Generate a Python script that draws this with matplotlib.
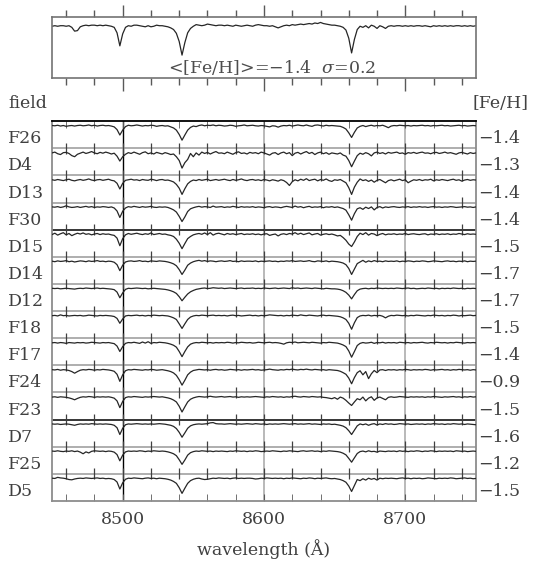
import numpy as np
import matplotlib
matplotlib.use("Agg")
import matplotlib.pyplot as plt

plt.rcParams['font.family'] = ['DejaVu Serif']
plt.rcParams['mathtext.fontset'] = 'dejavuserif'

# wavelength grid of the spectra (2 A sampling)
wave = np.arange(8450, 8751, 2)

fields = ['F26', 'D4', 'D13', 'F30', 'D15', 'D14', 'D12',
          'F18', 'F17', 'F24', 'F23', 'D7', 'F25', 'D5']
feh = ['−1.4', '−1.3', '−1.4', '−1.4', '−1.5', '−1.7', '−1.7',
       '−1.5', '−1.4', '−0.9', '−1.5', '−1.6', '−1.2', '−1.5']

# normalised flux x100
mean_flux = [98, 99, 98, 99, 99, 98, 99, 96, 89, 90,
             97, 99, 100, 99, 100, 100, 99, 100, 99, 100,
             99, 98, 96, 86, 62, 84, 96, 99, 98, 100,
             100, 99, 98, 97, 99, 97, 98, 100, 99, 99,
             98, 97, 95, 92, 85, 70, 45, 68, 86, 94,
             98, 101, 100, 99, 100, 102, 101, 100, 99, 100,
             100, 99, 100, 99, 98, 100, 99, 98, 99, 100,
             99, 98, 100, 101, 100, 99, 99, 98, 99, 97,
             95, 97, 99, 100, 99, 101, 100, 101, 102, 101,
             102, 103, 102, 104, 103, 105, 103, 102, 101, 100,
             100, 99, 98, 96, 91, 76, 49, 74, 92, 98,
             96, 99, 95, 100, 98, 94, 99, 97, 94, 98,
             99, 98, 99, 99, 98, 99, 98, 99, 98, 99,
             99, 98, 99, 98, 97, 99, 98, 99, 98, 99,
             98, 99, 98, 99, 99, 98, 99, 98, 99, 98,
             99]

f26 = [99, 98, 100, 97, 99, 96, 98, 99, 97, 99,
       100, 98, 99, 101, 98, 100, 97, 99, 100, 98,
       99, 97, 94, 84, 64, 82, 95, 100, 98, 99,
       101, 99, 97, 99, 98, 100, 99, 96, 98, 99,
       97, 98, 94, 90, 82, 66, 45, 64, 82, 92,
       97, 95, 99, 101, 98, 100, 99, 101, 98, 100,
       99, 97, 98, 100, 99, 96, 98, 99, 101, 98,
       99, 100, 98, 97, 99, 98, 96, 94, 98, 97,
       93, 97, 99, 98, 100, 97, 99, 101, 99, 98,
       101, 98, 96, 100, 101, 99, 97, 100, 98, 99,
       98, 97, 96, 92, 86, 72, 55, 74, 90, 96,
       99, 95, 98, 100, 97, 99, 98, 100, 96, 91,
       97, 99, 98, 100, 99, 98, 99, 97, 99, 98,
       99, 100, 98, 99, 97, 99, 98, 99, 100, 98,
       99, 97, 98, 99, 100, 98, 99, 97, 98, 99,
       98]

d4 = [98, 101, 95, 92, 99, 100, 96, 88, 84, 93,
      97, 101, 96, 99, 103, 98, 95, 100, 97, 101,
      98, 94, 97, 86, 68, 84, 93, 99, 96, 101,
      97, 93, 99, 102, 95, 98, 94, 100, 97, 94,
      99, 96, 92, 94, 84, 70, 42, 62, 74, 96,
      84, 98, 90, 101, 96, 100, 94, 99, 103, 97,
      98, 95, 101, 97, 93, 99, 102, 96, 98, 94,
      100, 97, 99, 95, 101, 98, 94, 90, 97, 99,
      92, 98, 101, 95, 99, 88, 97, 100, 94, 99,
      103, 96, 100, 92, 98, 101, 95, 99, 93, 98,
      96, 94, 98, 90, 86, 70, 47, 68, 88, 97,
      93, 99, 95, 87, 98, 101, 96, 99, 94, 100,
      97, 99, 101, 96, 98, 93, 99, 97, 100, 96,
      99, 101, 97, 98, 95, 99, 100, 96, 98, 101,
      97, 99, 96, 93, 98, 100, 97, 94, 99, 96,
      98]

d13 = [99, 97, 100, 98, 96, 99, 101, 97, 95, 98,
       100, 97, 99, 102, 98, 96, 99, 100, 97, 99,
       101, 97, 95, 86, 65, 86, 97, 99, 101, 98,
       99, 96, 100, 98, 97, 101, 99, 96, 99, 100,
       97, 98, 95, 91, 82, 68, 45, 66, 84, 93,
       98, 96, 100, 97, 99, 101, 96, 98, 100, 97,
       99, 101, 98, 96, 100, 97, 99, 102, 98, 96,
       99, 100, 97, 99, 96, 100, 98, 95, 99, 97,
       94, 99, 96, 89, 78, 92, 99, 95, 101, 97,
       103, 96, 99, 101, 95, 100, 97, 102, 96, 93,
       99, 97, 100, 94, 88, 70, 45, 72, 90, 102,
       96, 99, 93, 98, 90, 97, 100, 94, 88, 96,
       99, 95, 98, 101, 96, 99, 88, 94, 99, 97,
       100, 96, 99, 98, 101, 95, 99, 97, 100, 98,
       96, 99, 101, 97, 99, 94, 98, 100, 97, 99,
       98]

f30 = [99, 98, 100, 97, 99, 103, 99, 97, 98, 100,
       97, 99, 101, 98, 100, 97, 99, 98, 100, 99,
       97, 99, 95, 84, 60, 83, 95, 100, 98, 101,
       99, 97, 100, 98, 99, 101, 98, 97, 99, 98,
       99, 97, 93, 88, 80, 64, 45, 62, 82, 92,
       96, 99, 101, 98, 100, 99, 97, 102, 98, 99,
       100, 97, 99, 98, 101, 99, 97, 100, 98, 99,
       98, 100, 97, 99, 98, 96, 99, 100, 97, 99,
       98, 96, 99, 101, 99, 97, 102, 98, 100, 96,
       99, 101, 97, 99, 98, 100, 96, 99, 98, 100,
       97, 99, 96, 93, 87, 70, 50, 74, 92, 96,
       90, 98, 93, 99, 88, 97, 100, 95, 99, 97,
       99, 100, 98, 97, 99, 98, 100, 97, 99, 98,
       100, 98, 99, 97, 99, 100, 98, 99, 97, 99,
       98, 100, 99, 97, 98, 99, 100, 98, 99, 97,
       99]

d15 = [97, 102, 95, 100, 104, 96, 101, 93, 98, 102,
       99, 103, 98, 100, 96, 99, 101, 97, 100, 98,
       99, 96, 94, 84, 56, 82, 96, 101, 98, 100,
       102, 99, 97, 100, 98, 103, 97, 99, 101, 98,
       99, 96, 94, 90, 80, 65, 45, 64, 82, 90,
       96, 99, 101, 98, 103, 97, 104, 95, 100, 102,
       99, 96, 101, 98, 100, 97, 99, 101, 97, 99,
       98, 100, 97, 99, 96, 99, 100, 94, 97, 99,
       92, 98, 100, 97, 101, 99, 104, 98, 102, 97,
       100, 103, 96, 99, 101, 95, 98, 100, 97, 99,
       96, 92, 94, 86, 76, 62, 53, 70, 90, 102,
       97, 104, 95, 101, 99, 93, 98, 101, 96, 99,
       98, 100, 97, 99, 98, 101, 97, 99, 100, 98,
       97, 99, 100, 96, 99, 98, 100, 97, 99, 98,
       100, 97, 99, 98, 101, 99, 97, 100, 98, 99,
       98]

d14 = [99, 97, 100, 98, 99, 101, 97, 99, 96, 98,
       100, 99, 97, 100, 98, 99, 101, 98, 99, 97,
       99, 98, 95, 86, 64, 84, 96, 99, 100, 98,
       99, 101, 98, 99, 97, 100, 99, 98, 100, 99,
       98, 96, 93, 89, 82, 68, 50, 66, 84, 92,
       97, 100, 102, 99, 101, 98, 100, 99, 97, 99,
       100, 98, 99, 101, 98, 99, 97, 100, 98, 99,
       99, 98, 100, 97, 99, 98, 99, 100, 98, 99,
       97, 99, 98, 100, 99, 101, 98, 99, 100, 98,
       99, 101, 98, 97, 100, 99, 98, 100, 97, 99,
       98, 97, 95, 92, 86, 72, 50, 70, 90, 96,
       102, 95, 100, 97, 101, 98, 99, 97, 100, 98,
       99, 98, 100, 97, 99, 98, 100, 99, 97, 99,
       98, 100, 99, 97, 98, 100, 99, 98, 97, 99,
       100, 98, 99, 97, 99, 98, 100, 97, 99, 98,
       99]

d12 = [99, 98, 99, 97, 98, 99, 98, 97, 96, 98,
       99, 98, 100, 99, 98, 99, 100, 98, 99, 98,
       97, 96, 94, 85, 64, 82, 95, 99, 98, 99,
       100, 99, 98, 99, 97, 98, 99, 98, 97, 96,
       95, 93, 90, 86, 80, 68, 53, 66, 78, 86,
       91, 95, 97, 99, 100, 98, 99, 101, 100, 99,
       100, 98, 99, 100, 99, 98, 99, 100, 98, 99,
       99, 100, 98, 99, 98, 100, 99, 98, 99, 100,
       98, 99, 100, 99, 98, 101, 99, 100, 98, 99,
       100, 99, 98, 100, 99, 98, 97, 99, 98, 97,
       97, 96, 94, 90, 84, 74, 60, 76, 90, 96,
       98, 99, 97, 99, 98, 100, 99, 98, 99, 98,
       99, 98, 100, 99, 98, 99, 100, 98, 99, 97,
       98, 99, 98, 100, 99, 98, 99, 97, 99, 98,
       99, 98, 100, 99, 98, 99, 97, 99, 98, 99,
       98]

f18 = [98, 99, 97, 101, 98, 99, 97, 98, 99, 98,
       99, 97, 98, 100, 99, 98, 97, 99, 98, 99,
       98, 97, 95, 88, 70, 86, 97, 99, 98, 99,
       100, 98, 99, 97, 99, 98, 100, 99, 98, 99,
       98, 97, 94, 90, 84, 68, 51, 68, 84, 93,
       97, 99, 98, 100, 99, 98, 99, 100, 98, 99,
       98, 99, 97, 99, 100, 98, 99, 97, 98, 99,
       100, 98, 99, 97, 99, 98, 99, 101, 100, 99,
       98, 99, 97, 99, 98, 100, 99, 98, 101, 99,
       98, 100, 99, 98, 97, 99, 100, 98, 99, 98,
       97, 96, 94, 90, 84, 70, 48, 72, 91, 97,
       99, 98, 100, 97, 99, 98, 99, 96, 90, 96,
       99, 98, 100, 99, 98, 99, 97, 99, 98, 100,
       99, 98, 97, 99, 98, 100, 99, 98, 99, 97,
       99, 98, 100, 99, 97, 99, 98, 99, 100, 98,
       99]

f17 = [98, 99, 97, 99, 98, 96, 99, 98, 97, 99,
       98, 99, 97, 98, 100, 99, 98, 97, 99, 98,
       99, 97, 95, 86, 66, 84, 96, 99, 98, 100,
       98, 96, 101, 97, 102, 96, 99, 98, 100, 99,
       98, 96, 93, 89, 82, 66, 47, 66, 83, 93,
       97, 99, 98, 100, 99, 98, 99, 97, 99, 98,
       99, 98, 100, 99, 97, 99, 98, 100, 99, 98,
       99, 97, 98, 100, 99, 98, 99, 100, 98, 99,
       98, 96, 93, 98, 100, 99, 101, 98, 99, 100,
       99, 98, 100, 99, 98, 97, 99, 98, 100, 99,
       98, 97, 94, 90, 84, 68, 45, 66, 88, 96,
       99, 97, 98, 100, 96, 99, 98, 100, 97, 99,
       98, 99, 97, 100, 99, 98, 99, 97, 99, 98,
       99, 100, 98, 97, 99, 98, 100, 99, 98, 99,
       97, 99, 98, 100, 99, 98, 97, 99, 98, 99,
       98]

f24 = [99, 98, 100, 97, 99, 98, 96, 92, 86, 92,
       97, 99, 98, 100, 99, 97, 99, 98, 100, 99,
       98, 96, 93, 82, 56, 80, 95, 99, 98, 100,
       99, 98, 97, 99, 98, 100, 99, 97, 98, 99,
       97, 95, 92, 87, 78, 62, 42, 60, 80, 90,
       96, 98, 100, 99, 98, 99, 97, 99, 100, 98,
       99, 97, 98, 100, 99, 98, 99, 97, 99, 98,
       99, 100, 98, 99, 97, 98, 99, 101, 99, 98,
       97, 99, 98, 100, 99, 101, 99, 98, 100, 99,
       101, 99, 98, 100, 99, 98, 99, 97, 99, 98,
       97, 96, 93, 88, 82, 68, 47, 70, 88, 95,
       80, 92, 66, 84, 96, 88, 98, 99, 96, 99,
       98, 99, 97, 99, 98, 100, 99, 97, 99, 98,
       99, 98, 100, 99, 97, 99, 98, 99, 100, 98,
       99, 97, 99, 98, 100, 99, 98, 99, 97, 99,
       98]

f23 = [98, 99, 97, 99, 98, 97, 95, 92, 88, 93,
       97, 99, 98, 100, 99, 97, 99, 98, 99, 98,
       99, 97, 94, 84, 59, 82, 96, 99, 98, 100,
       99, 98, 97, 99, 98, 99, 100, 99, 98, 99,
       97, 95, 92, 87, 80, 64, 43, 62, 80, 90,
       95, 98, 100, 99, 98, 99, 101, 99, 98, 99,
       100, 98, 99, 100, 98, 99, 97, 99, 98, 99,
       98, 99, 100, 99, 98, 97, 99, 98, 100, 99,
       98, 99, 97, 99, 98, 100, 101, 99, 98, 100,
       99, 98, 100, 99, 98, 99, 97, 96, 94, 92,
       96, 90, 98, 94, 86, 76, 67, 80, 92, 88,
       98, 84, 94, 99, 86, 95, 98, 93, 88, 97,
       99, 97, 98, 100, 99, 98, 97, 99, 98, 99,
       98, 99, 97, 99, 98, 100, 99, 98, 97, 99,
       98, 99, 100, 98, 99, 97, 99, 98, 100, 98,
       99]

d7 = [99, 98, 99, 97, 98, 99, 98, 96, 94, 97,
      99, 98, 99, 98, 100, 99, 98, 99, 98, 99,
      98, 97, 94, 85, 60, 83, 96, 99, 98, 99,
      100, 99, 98, 99, 98, 99, 98, 99, 100, 99,
      98, 96, 94, 90, 82, 68, 50, 66, 83, 92,
      96, 98, 99, 98, 99, 100, 103, 104, 100, 99,
      99, 98, 99, 100, 99, 98, 99, 98, 99, 100,
      99, 98, 100, 99, 98, 99, 97, 99, 98, 99,
      98, 99, 100, 99, 98, 99, 100, 98, 99, 98,
      99, 100, 98, 99, 98, 97, 99, 98, 99, 97,
      98, 96, 94, 91, 85, 74, 60, 76, 92, 99,
      96, 99, 94, 98, 100, 95, 99, 97, 100, 98,
      99, 97, 98, 100, 99, 98, 99, 97, 98, 99,
      98, 99, 97, 99, 98, 100, 99, 98, 99, 97,
      99, 98, 100, 99, 98, 99, 97, 99, 98, 97,
      96]

f25 = [99, 98, 100, 98, 97, 99, 98, 100, 97, 99,
       95, 89, 96, 92, 98, 100, 99, 98, 99, 97,
       99, 98, 95, 86, 63, 84, 96, 99, 98, 99,
       98, 100, 99, 97, 99, 98, 100, 99, 98, 99,
       98, 96, 93, 89, 82, 67, 50, 66, 84, 93,
       97, 99, 98, 100, 99, 98, 99, 97, 99, 98,
       99, 98, 97, 99, 98, 100, 99, 98, 99, 97,
       99, 98, 100, 99, 97, 98, 99, 98, 100, 99,
       98, 97, 99, 98, 100, 99, 98, 97, 99, 100,
       98, 99, 100, 98, 99, 97, 99, 98, 100, 99,
       98, 97, 95, 91, 85, 72, 58, 74, 90, 97,
       99, 96, 100, 97, 98, 95, 99, 98, 97, 99,
       98, 99, 97, 100, 98, 99, 97, 99, 98, 100,
       99, 97, 99, 98, 100, 99, 97, 99, 98, 99,
       98, 99, 97, 100, 99, 98, 99, 97, 98, 99,
       98]

d5 = [99, 98, 102, 100, 99, 97, 94, 93, 96, 98,
      99, 98, 100, 99, 98, 99, 100, 98, 99, 97,
      98, 97, 94, 85, 59, 82, 95, 99, 98, 100,
      99, 98, 97, 99, 100, 98, 99, 97, 99, 98,
      97, 95, 92, 87, 80, 64, 43, 62, 80, 90,
      95, 98, 99, 96, 94, 95, 97, 99, 98, 100,
      99, 98, 99, 97, 99, 100, 98, 99, 98, 99,
      99, 98, 96, 97, 99, 98, 100, 99, 98, 99,
      98, 99, 97, 99, 98, 100, 99, 98, 97, 99,
      98, 100, 99, 97, 99, 98, 99, 100, 98, 97,
      98, 96, 94, 90, 84, 70, 50, 72, 94, 90,
      97, 92, 99, 95, 98, 92, 99, 97, 99, 98,
      99, 98, 97, 99, 100, 98, 99, 97, 99, 98,
      99, 97, 98, 100, 99, 98, 97, 99, 98, 99,
      98, 100, 99, 97, 98, 99, 100, 98, 99, 97,
      98]

spectra = [f26, d4, d13, f30, d15, d14, d12, f18, f17, f24, f23, d7, f25, d5]

major = [8500, 8600, 8700]
minor = list(range(8460, 8750, 20))

fig = plt.figure(figsize=(5.6, 5.61), dpi=100)

# --- top panel: mean spectrum
ax0 = fig.add_axes([0.0929, 0.861, 0.757, 0.1087])
ax0.plot(wave, np.array(mean_flux) / 100, color='0.15', lw=0.9)
ax0.set_xlim(8450, 8750)
ax0.set_ylim(0.03, 1.15)
ax0.set_yticks([])
ax0.set_xticks(major)
ax0.set_xticks(minor, minor=True)
ax0.tick_params(axis='x', which='both', direction='out', top=True, bottom=True,
                labelbottom=False, colors='0.35', width=1)
ax0.tick_params(axis='x', which='major', length=9)
ax0.tick_params(axis='x', which='minor', length=5)
for s in ax0.spines.values():
    s.set_color('0.45')
    s.set_linewidth(1.2)
ax0.text(0.519, 0.17, r'<[Fe/H]>=$-$1.4  $\sigma$=0.2', transform=ax0.transAxes,
         ha='center', va='center', fontsize=12.5, color='0.3')

# --- main panel: individual spectra
ax = fig.add_axes([0.0929, 0.107, 0.757, 0.677])
n = len(spectra)
ax.set_xlim(8450, 8750)
ax.set_ylim(n, 0)

ax.axvline(8500, color='black', lw=1.0, zorder=1)
ax.axvline(8600, color='0.7', lw=1.3, zorder=1)
ax.axvline(8700, color='0.7', lw=1.3, zorder=1)

for i in range(1, n):
    c = 'black' if i in (4, 11) else '0.6'
    ax.axhline(i, color=c, lw=1.1, zorder=1)
    ax.vlines(minor, i - 0.2, i + 0.2, color='0.25', lw=0.9, zorder=2)

for i, (name, fl, fe) in enumerate(zip(fields, spectra, feh)):
    y = i + 0.15 + (1 - np.array(fl) / 100)
    ax.plot(wave, y, color='0.15', lw=0.9, zorder=3)
    ax.text(-0.104, i + 0.65, name, transform=ax.get_yaxis_transform(),
            ha='left', va='center', fontsize=12.5, color='0.25')
    ax.text(1.005, i + 0.65, fe, transform=ax.get_yaxis_transform(),
            ha='left', va='center', fontsize=12.5, color='0.25')

ax.set_yticks([])
ax.set_xticks(major)
ax.set_xticks(minor, minor=True)
ax.tick_params(axis='x', which='both', direction='in', top=True, bottom=True,
               length=5, colors='0.35', labelcolor='0.25', labelsize=12.5, pad=7)
for s in ax.spines.values():
    s.set_color('0.55')
    s.set_linewidth(1.3)
ax.spines['top'].set_color('black')
ax.set_xlabel('wavelength (Å)', fontsize=12.5, color='0.25', labelpad=8)

fig.text(8 / 560, 1 - 104 / 561, 'field', ha='left', va='center',
         fontsize=12.5, color='0.25')
fig.text(473 / 560, 1 - 104 / 561, '[Fe/H]', ha='left', va='center',
         fontsize=12.5, color='0.25')

fig.savefig('out.png', dpi=100)
